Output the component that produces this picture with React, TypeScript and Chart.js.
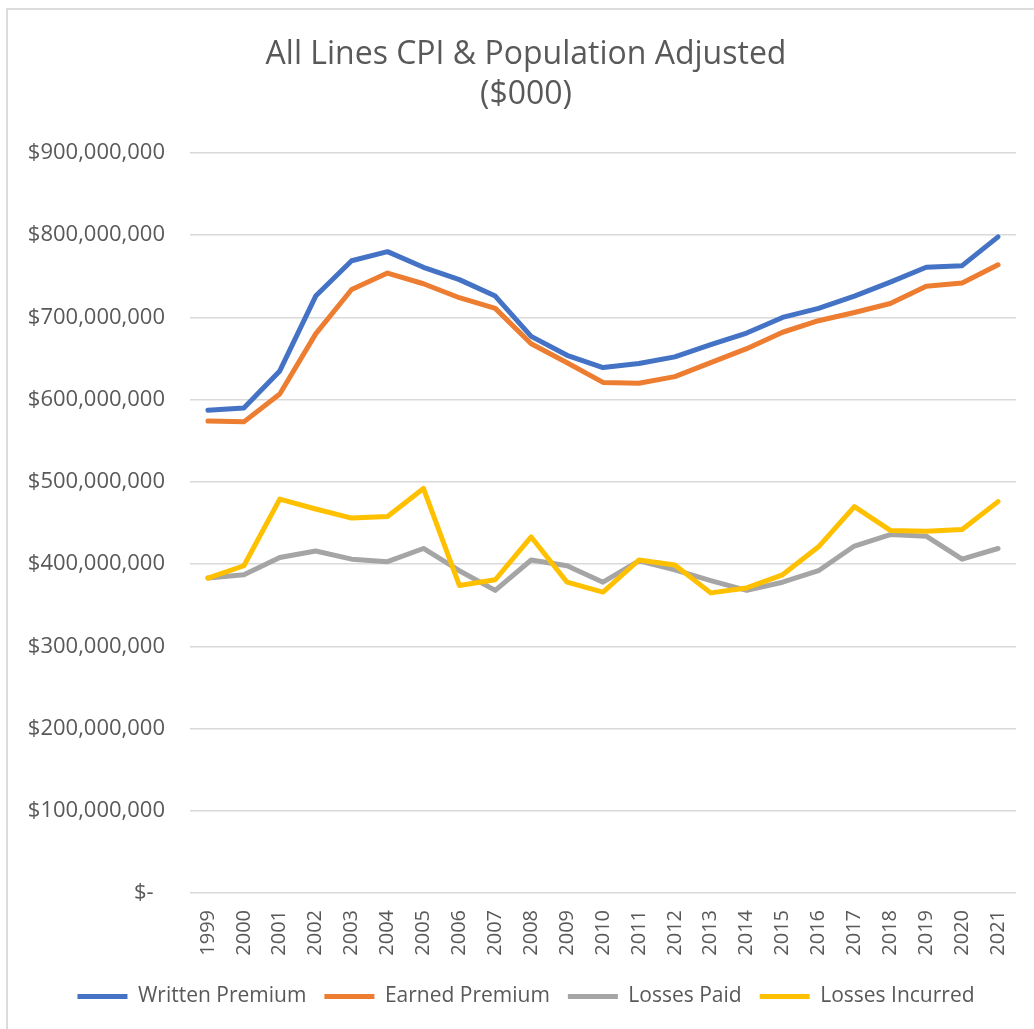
import React, { useEffect, useRef } from "react";
import { Chart, registerables } from "chart.js";

Chart.register(...registerables);

const years = ["1999","2000","2001","2002","2003","2004","2005","2006","2007","2008","2009","2010","2011","2012","2013","2014","2015","2016","2017","2018","2019","2020","2021"];

const writtenPremium = [587000000, 590000000, 635000000, 726000000, 769000000, 780000000, 761000000, 746000000, 726000000, 677000000, 654000000, 639000000, 644000000, 652000000, 667000000, 681000000, 700000000, 711000000, 726000000, 743000000, 761000000, 763000000, 798000000];
const earnedPremium = [574000000, 573000000, 607000000, 680000000, 734000000, 754000000, 741000000, 724000000, 711000000, 668000000, 645000000, 621000000, 620000000, 628000000, 645000000, 662000000, 682000000, 696000000, 706000000, 717000000, 738000000, 742000000, 764000000];
const lossesPaid = [383000000, 387000000, 408000000, 416000000, 406000000, 403000000, 419000000, 392000000, 368000000, 405000000, 398000000, 378000000, 404000000, 393000000, 380000000, 368000000, 378000000, 392000000, 422000000, 436000000, 434000000, 406000000, 419000000];
const lossesIncurred = [383000000, 398000000, 479000000, 467000000, 456000000, 458000000, 492000000, 374000000, 381000000, 433000000, 378000000, 366000000, 405000000, 399000000, 365000000, 371000000, 387000000, 421000000, 470000000, 441000000, 440000000, 442000000, 476000000];

const seriesNames = ["Written Premium", "Earned Premium", "Losses Paid", "Losses Incurred"];
const seriesColors = ["#4472C4", "#ED7D31", "#A5A5A5", "#FFC000"];
const titleLines = ["All Lines CPI & Population Adjusted", "($000)"];

const FONT = "'Open Sans', 'DejaVu Sans', sans-serif";
const TEXT = "#595959";

export default function App() {
  const ref = useRef<HTMLCanvasElement | null>(null);

  useEffect(() => {
    document.body.style.margin = "0";
    const canvas = ref.current;
    if (!canvas) return;
    const values = [writtenPremium, earnedPremium, lossesPaid, lossesIncurred];
    const chart = new Chart(canvas, {
      type: "line",
      data: {
        labels: years,
        datasets: values.map((d, i) => ({
          label: seriesNames[i],
          data: d,
          borderColor: seriesColors[i],
          backgroundColor: seriesColors[i],
          borderWidth: 5,
          pointRadius: 0,
          pointHoverRadius: 0,
          tension: 0,
          fill: false,
          borderJoinStyle: "round" as const,
          borderCapStyle: "round" as const,
          order: 3 - i,
          yAxisID: "y",
        })),
      },
      options: {
        animation: false,
        responsive: false,
        layout: { padding: { left: 0, right: 0, top: 0, bottom: 12 } },
        font: { family: FONT },
        plugins: {
          title: {
            display: true,
            text: titleLines,
            color: TEXT,
            font: { family: FONT, size: 32, weight: "normal", lineHeight: 40 / 32 },
            padding: { top: 35, bottom: 38 },
          },
          legend: {
            display: true,
            position: "bottom",
            labels: {
              color: TEXT,
              font: { family: FONT, size: 21 },
              usePointStyle: true,
              pointStyle: "line",
              pointStyleWidth: 50,
              boxHeight: 5,
              padding: 18,
              sort: (a: any, b: any) => a.datasetIndex - b.datasetIndex,
            },
          },
          tooltip: { enabled: false },
        },
        scales: {
          x: {
            type: "category",
            offset: true,
            grid: { display: false, drawTicks: false },
            border: { display: false },
            ticks: {
              color: TEXT,
              font: { family: FONT, size: 20 },
              minRotation: 90,
              maxRotation: 90,
              padding: 17,
              autoSkip: false,
            },
            afterFit: (scale: any) => {
              scale.height = 75;
            },
          },
          y: {
            min: 0,
            max: 900000000,
            grid: { color: "#d9d9d9", lineWidth: 1.5, drawTicks: false },
            border: { display: false },
            ticks: {
              stepSize: 100000000,
              color: TEXT,
              font: { family: FONT, size: 22 },
              padding: 25,
              callback: (v: any) => (Number(v) === 0 ? "$-  " : "$" + Number(v).toLocaleString("en-US")),
            },
            afterFit: (scale: any) => {
              scale.width = 190;
            },
          },
          yRight: {
            type: "linear",
            position: "right",
            display: true,
            grid: { display: false, drawTicks: false },
            border: { display: false },
            ticks: { display: false },
            afterFit: (scale: any) => {
              scale.width = 36;
            },
          },
        },
      },
    });
    return () => chart.destroy();
  }, []);

  return (
    <div style={{ position: "fixed", left: 0, top: 0, width: 1034, height: 1029, background: "#fff", overflow: "hidden" }}>
      <canvas ref={ref} width={1052} height={1029} style={{ display: "block" }} />
      <div
        style={{
          position: "absolute",
          left: 6,
          top: 8,
          width: 2000,
          height: 2000,
          borderLeft: "2px solid #dcdcdc",
          borderTop: "2px solid #dcdcdc",
          pointerEvents: "none",
        }}
      />
    </div>
  );
}
